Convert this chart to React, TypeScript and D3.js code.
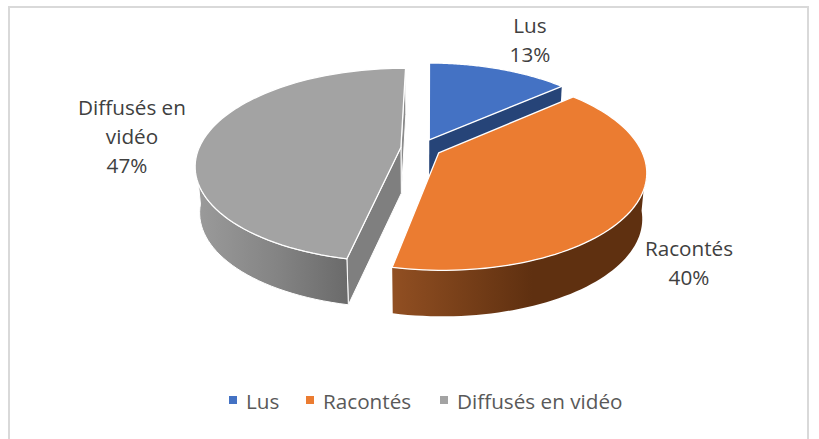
import React from "react";
import * as d3 from "d3";

const categories = ["Lus", "Racontés", "Diffusés en vidéo"];
const values = [13.4, 39.7, 46.9];
const topColors = ["#4472c4", "#eb7c31", "#a3a3a3"];
const sideColors = ["#264478", "#843c0c", "#7f7f7f"];
const wallStops = [
  ["#264478", "#264478", "#264478"],
  ["#914f22", "#5f3010", "#5f3010"],
  ["#9b9b9b", "#838383", "#6a6a6a"],
];
const dataLabels = [
  { lines: ["Lus", "13%"], x: [530, 530], y: 33 },
  { lines: ["Racontés", "40%"], x: [689, 689], y: 256 },
  { lines: ["Diffusés en", "vidéo", "47%"], x: [132, 132, 127], y: 115 },
];
const legendPos = [
  { sx: 229, tx: 246 },
  { sx: 306, tx: 323 },
  { sx: 440, tx: 457 },
];

const W = 819, H = 439;
const cx = 421, cy = 148.2, R = 202, B = 93.8, k = 0.184, D = 46, explode = 0.1, bottomScale = 0.98;
const startDeg = 0.5;

type P = [number, number];
function project(u: number, v: number, z: number): P {
  const w = 1 - k * v;
  const s = z ? bottomScale : 1;
  return [cx + (R * u * s) / w, cy + (B * v) / w + D * z];
}

const start = (startDeg * Math.PI) / 180;
const pie = d3.pie<number>().sort(null).startAngle(start).endAngle(start + 2 * Math.PI);
const arcs = pie(values);
const line = d3.line<P>();

function slice(i: number) {
  const a = arcs[i];
  const mid = (a.startAngle + a.endAngle) / 2;
  const ox = explode * Math.sin(mid), oy = -explode * Math.cos(mid);
  const pt = (t: number, r: number, z: number) =>
    project(ox + r * Math.sin(t), oy - r * Math.cos(t), z);
  const ts = d3.range(0, 81).map((n) => a.startAngle + ((a.endAngle - a.startAngle) * n) / 80);
  const top = line([pt(a.startAngle, 0, 0), ...ts.map((t) => pt(t, 1, 0))]) + "Z";
  const vis = ts.filter((t) => -Math.cos(t) > 0.1);
  const wall = vis.length
    ? line([...vis.map((t) => pt(t, 1, 0)), ...vis.slice().reverse().map((t) => pt(t, 1, 1))]) + "Z"
    : null;
  const radial = (t: number) =>
    line([pt(0, 0, 0), pt(t, 1, 0), pt(t, 1, 1), pt(0, 0, 1)]) + "Z";
  return { top, wall, startWall: radial(a.startAngle), endWall: radial(a.endAngle) };
}

const font = "'Open Sans', sans-serif";
const fontSize = 20.7;

export default function App() {
  const s = arcs.map((_, i) => slice(i));
  const order = [0, 2, 1];
  return (
    <svg width={W} height={H} style={{ position: "absolute", left: 0, top: 0 }}>
      <rect width={W} height={H} fill="#fff" />
      <rect x={9} y={7} width={799} height={440} fill="#fff" stroke="#d9d9d9" strokeWidth={2} />
      <defs>
        {wallStops.map((st, i) => (
          <linearGradient key={i} id={`wall${i}`} x1="0" x2="1" y1="0" y2="0">
            <stop offset="0" stopColor={st[0]} />
            <stop offset="0.55" stopColor={st[1]} />
            <stop offset="1" stopColor={st[2]} />
          </linearGradient>
        ))}
      </defs>
      {order.map((i) => (
        <g key={i}>
          {i === 0 && <path d={s[i].endWall} fill={sideColors[i]} />}
          {i === 2 && (
            <>
              <path d={s[i].endWall} fill="#8a8a8a" stroke="#fff" strokeWidth={1} />
              <path d={s[i].startWall} fill={sideColors[i]} stroke="#fff" strokeWidth={1} />
            </>
          )}
          {s[i].wall && (
            <path d={s[i].wall!} fill={`url(#wall${i})`} stroke={i === 2 ? "#fff" : "none"} strokeWidth={1} />
          )}
          <path d={s[i].top} fill={topColors[i]} stroke="#fff" strokeWidth={1.3} strokeLinejoin="round" />
        </g>
      ))}
      {dataLabels.map((d, i) => (
        <text key={i} fontFamily={font} fontSize={fontSize} fill="#404040" textAnchor="middle">
          {d.lines.map((l, j) => (
            <tspan key={j} x={d.x[j]} y={d.y + j * 29}>{l}</tspan>
          ))}
        </text>
      ))}
      {categories.map((c, i) => (
        <g key={c}>
          <rect x={legendPos[i].sx} y={396} width={8} height={8} fill={topColors[i]} />
          <text x={legendPos[i].tx} y={409} fontFamily={font} fontSize={fontSize} fill="#595959">{c}</text>
        </g>
      ))}
    </svg>
  );
}
